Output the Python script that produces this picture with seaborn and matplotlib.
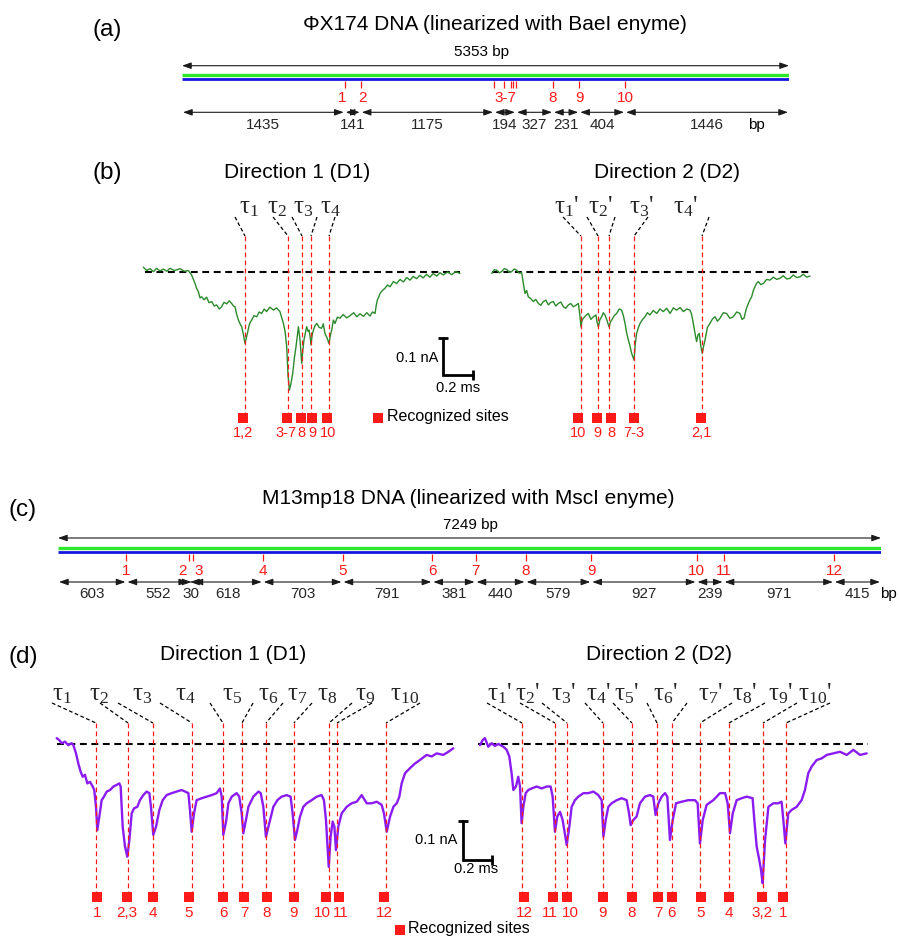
import matplotlib
matplotlib.use('Agg')
import matplotlib.pyplot as plt
import seaborn as sns
import numpy as np

sns.set_theme(style='white')
plt.rcParams['font.family'] = ['Liberation Sans', 'DejaVu Sans']
plt.rcParams['mathtext.fontset'] = 'custom'
plt.rcParams['mathtext.rm'] = 'Liberation Serif'
plt.rcParams['mathtext.it'] = 'Liberation Serif:italic'
plt.rcParams['mathtext.default'] = 'regular'

# ======================= DATA =======================
# (a) PhiX174 restriction map
phix_title = 'ΦX174 DNA (linearized with BaeI enyme)'
phix_total_bp = 5353
phix_segments_bp = [1435, 141, 1175, 194, 327, 231, 404, 1446]
phix_sites_bp = [1435, 1576, 2751, 2840, 2900, 2920, 2945, 3272, 3503, 3907]
phix_label_text = ['1', '2', '3-7', '8', '9', '10']
phix_label_bp = [1435, 1576, 2848, 3272, 3503, 3907]

# (c) M13mp18 restriction map
m13_title = 'M13mp18 DNA (linearized with MscI enyme)'
m13_total_bp = 7249
m13_segments_bp = [603, 552, 30, 618, 703, 791, 381, 440, 579, 927, 239, 971, 415]
m13_sites_bp = [603, 1155, 1185, 1803, 2506, 3297, 3678, 4118, 4697, 5624, 5863, 6834]
m13_label_text = ['1', '2', '3', '4', '5', '6', '7', '8', '9', '10', '11', '12']

# (b) PhiX174 translocation events (time in ms, current change in nA)
b_d1_time_ms = [0.002, 0.025, 0.047, 0.070, 0.091, 0.113, 0.136, 0.158, 0.180, 0.210,
                0.247, 0.275, 0.302, 0.324, 0.347, 0.358, 0.369, 0.380, 0.391, 0.408,
                0.424, 0.440, 0.458, 0.475, 0.491, 0.508, 0.524, 0.540, 0.558, 0.575,
                0.591, 0.603, 0.613, 0.625, 0.636, 0.647, 0.658, 0.670, 0.680, 0.696,
                0.710, 0.724, 0.740, 0.758, 0.775, 0.791, 0.808, 0.824, 0.846, 0.869,
                0.890, 0.913, 0.936, 0.947, 0.958, 0.967, 0.976, 0.987, 0.998, 1.010,
                1.020, 1.036, 1.047, 1.058, 1.066, 1.073, 1.091, 1.100, 1.107, 1.114,
                1.120, 1.128, 1.136, 1.147, 1.158, 1.175, 1.191, 1.202, 1.213, 1.227,
                1.240, 1.250, 1.258, 1.269, 1.280, 1.296, 1.313, 1.335, 1.358, 1.380,
                1.405, 1.425, 1.447, 1.470, 1.492, 1.513, 1.530, 1.547, 1.555, 1.562,
                1.571, 1.580, 1.596, 1.613, 1.630, 1.647, 1.669, 1.691, 1.714, 1.736,
                1.758, 1.780, 1.802, 1.824, 1.846, 1.868, 1.890, 1.913, 1.935, 1.958,
                1.980, 2.002, 2.030, 2.058, 2.085, 2.113]
b_d1_current_na = [0.013, 0.004, 0.009, 0.001, 0.010, 0.003, 0.008, 0.002, 0.010, 0.004,
                   0.009, 0.002, 0.004, -0.008, -0.031, -0.045, -0.053, -0.070, -0.067, -0.075,
                   -0.068, -0.083, -0.080, -0.092, -0.089, -0.100, -0.094, -0.082, -0.086, -0.078,
                   -0.085, -0.092, -0.094, -0.115, -0.130, -0.140, -0.148, -0.170, -0.193, -0.166,
                   -0.140, -0.130, -0.118, -0.121, -0.108, -0.112, -0.100, -0.107, -0.095, -0.103,
                   -0.097, -0.107, -0.139, -0.160, -0.202, -0.280, -0.319, -0.300, -0.274, -0.230,
                   -0.202, -0.148, -0.184, -0.247, -0.210, -0.184, -0.148, -0.160, -0.157, -0.175,
                   -0.197, -0.170, -0.157, -0.145, -0.139, -0.150, -0.152, -0.140, -0.166, -0.178,
                   -0.193, -0.170, -0.157, -0.130, -0.139, -0.122, -0.125, -0.115, -0.124, -0.118,
                   -0.110, -0.121, -0.113, -0.120, -0.110, -0.119, -0.108, -0.112, -0.090, -0.076,
                   -0.068, -0.058, -0.050, -0.044, -0.035, -0.040, -0.026, -0.031, -0.020, -0.027,
                   -0.015, -0.022, -0.012, -0.018, -0.009, -0.016, -0.006, -0.014, -0.004, -0.011,
                   -0.002, -0.008, 0.000, -0.007, 0.001, -0.004]
b_d1_events_ms = [0.680, 0.967, 1.060, 1.120, 1.240]
b_d1_marks_ms = [0.667, 0.960, 1.053, 1.127, 1.227]
b_d1_mark_text = ['1,2', '3-7', '8', '9', '10']
b_d1_tau = [r'τ$_1$', r'τ$_2$', r'τ$_3$', r'τ$_4$']

b_d2_time_ms = [-0.002, 0.015, 0.031, 0.048, 0.064, 0.081, 0.098, 0.115, 0.131, 0.148,
                0.164, 0.181, 0.198, 0.209, 0.220, 0.231, 0.242, 0.259, 0.276, 0.292,
                0.309, 0.325, 0.342, 0.359, 0.376, 0.392, 0.409, 0.425, 0.442, 0.459,
                0.476, 0.492, 0.509, 0.525, 0.542, 0.559, 0.576, 0.587, 0.593, 0.601,
                0.609, 0.625, 0.642, 0.659, 0.676, 0.693, 0.700, 0.709, 0.720, 0.731,
                0.742, 0.753, 0.766, 0.780, 0.790, 0.798, 0.815, 0.831, 0.848, 0.864,
                0.876, 0.887, 0.898, 0.909, 0.920, 0.931, 0.947, 0.955, 0.964, 0.976,
                0.987, 1.004, 1.020, 1.036, 1.053, 1.075, 1.098, 1.120, 1.142, 1.165,
                1.187, 1.209, 1.231, 1.254, 1.276, 1.298, 1.320, 1.331, 1.342, 1.353,
                1.364, 1.373, 1.382, 1.392, 1.402, 1.411, 1.420, 1.436, 1.453, 1.470,
                1.487, 1.503, 1.520, 1.542, 1.564, 1.586, 1.609, 1.631, 1.653, 1.667,
                1.680, 1.695, 1.709, 1.720, 1.731, 1.742, 1.753, 1.765, 1.776, 1.792,
                1.809, 1.831, 1.853, 1.876, 1.898, 1.920, 1.942, 1.965, 1.987, 2.009,
                2.031, 2.053, 2.075, 2.098, 2.120]
b_d2_current_na = [-0.004, 0.006, 0.005, -0.002, 0.001, 0.009, 0.007, -0.001, 0.001, 0.008,
                   0.005, -0.003, -0.002, -0.031, -0.058, -0.050, -0.067, -0.072, -0.080, -0.074,
                   -0.085, -0.090, -0.080, -0.076, -0.089, -0.082, -0.080, -0.092, -0.085, -0.081,
                   -0.094, -0.098, -0.089, -0.085, -0.094, -0.090, -0.085, -0.121, -0.148, -0.130,
                   -0.125, -0.118, -0.112, -0.128, -0.121, -0.116, -0.135, -0.148, -0.128, -0.121,
                   -0.110, -0.116, -0.130, -0.148, -0.135, -0.130, -0.118, -0.112, -0.100, -0.103,
                   -0.118, -0.139, -0.165, -0.184, -0.200, -0.220, -0.238, -0.195, -0.166, -0.150,
                   -0.139, -0.128, -0.121, -0.110, -0.116, -0.104, -0.112, -0.100, -0.107, -0.098,
                   -0.112, -0.097, -0.103, -0.096, -0.107, -0.100, -0.103, -0.115, -0.139, -0.165,
                   -0.188, -0.170, -0.166, -0.200, -0.220, -0.200, -0.184, -0.150, -0.139, -0.127,
                   -0.121, -0.133, -0.125, -0.110, -0.112, -0.125, -0.121, -0.108, -0.112, -0.128,
                   -0.125, -0.100, -0.085, -0.075, -0.067, -0.050, -0.040, -0.030, -0.026, -0.034,
                   -0.031, -0.020, -0.022, -0.014, -0.020, -0.017, -0.010, -0.019, -0.017, -0.008,
                   -0.015, -0.013, -0.006, -0.014, -0.011]
b_d2_events_ms = [0.593, 0.707, 0.780, 0.947, 1.400]
b_d2_marks_ms = [0.573, 0.700, 0.793, 0.947, 1.393]
b_d2_mark_text = ['10', '9', '8', '7-3', '2,1']
b_d2_tau = [r"τ$_1$'", r"τ$_2$'", r"τ$_3$'", r"τ$_4$'"]

# (d) M13mp18 translocation events
d_d1_time_ms = [-0.002, 0.016, 0.032, 0.055, 0.078, 0.101, 0.113, 0.131, 0.147, 0.163,
                0.177, 0.193, 0.209, 0.228, 0.246, 0.257, 0.269, 0.278, 0.292, 0.308,
                0.324, 0.343, 0.366, 0.389, 0.411, 0.430, 0.439, 0.453, 0.469, 0.485,
                0.499, 0.515, 0.531, 0.554, 0.572, 0.595, 0.618, 0.637, 0.648, 0.664,
                0.683, 0.706, 0.729, 0.756, 0.791, 0.825, 0.860, 0.883, 0.906, 0.917,
                0.929, 0.945, 0.963, 0.998, 1.032, 1.067, 1.101, 1.124, 1.136, 1.147,
                1.166, 1.182, 1.205, 1.239, 1.257, 1.274, 1.285, 1.303, 1.320, 1.354,
                1.389, 1.405, 1.423, 1.441, 1.464, 1.492, 1.520, 1.549, 1.584, 1.611,
                1.625, 1.641, 1.657, 1.676, 1.699, 1.722, 1.756, 1.791, 1.825, 1.841,
                1.855, 1.874, 1.887, 1.901, 1.913, 1.924, 1.940, 1.963, 1.998, 2.032,
                2.067, 2.101, 2.136, 2.170, 2.205, 2.239, 2.255, 2.274, 2.297, 2.320,
                2.343, 2.361, 2.377, 2.400, 2.434, 2.469, 2.503, 2.549, 2.584, 2.618,
                2.664, 2.699, 2.733]
d_d1_current_na = [0.015, 0.010, 0.002, 0.006, -0.003, 0.002, -0.003, -0.024, -0.050, -0.071,
                   -0.084, -0.079, -0.101, -0.097, -0.109, -0.118, -0.161, -0.221, -0.186, -0.144,
                   -0.135, -0.122, -0.118, -0.109, -0.105, -0.101, -0.109, -0.212, -0.263, -0.289,
                   -0.246, -0.178, -0.165, -0.161, -0.144, -0.131, -0.122, -0.126, -0.161, -0.233,
                   -0.212, -0.169, -0.144, -0.131, -0.126, -0.122, -0.118, -0.122, -0.126, -0.169,
                   -0.225, -0.178, -0.144, -0.139, -0.135, -0.131, -0.126, -0.114, -0.135, -0.233,
                   -0.199, -0.152, -0.135, -0.126, -0.135, -0.178, -0.229, -0.195, -0.161, -0.135,
                   -0.122, -0.126, -0.161, -0.238, -0.203, -0.161, -0.144, -0.135, -0.131, -0.135,
                   -0.178, -0.246, -0.221, -0.186, -0.161, -0.152, -0.144, -0.135, -0.131, -0.144,
                   -0.195, -0.315, -0.238, -0.199, -0.212, -0.272, -0.212, -0.178, -0.161, -0.152,
                   -0.148, -0.131, -0.152, -0.152, -0.148, -0.156, -0.178, -0.225, -0.186, -0.161,
                   -0.152, -0.135, -0.101, -0.075, -0.062, -0.050, -0.041, -0.028, -0.032, -0.024,
                   -0.028, -0.020, -0.011]
d_d1_events_ms = [0.269, 0.490, 0.662, 0.931, 1.145, 1.276, 1.441, 1.634, 1.876, 1.931, 2.269]
d_d1_marks_ms = [0.276, 0.483, 0.662, 0.910, 1.145, 1.290, 1.448, 1.634, 1.855, 1.945, 2.255]
d_d1_mark_text = ['1', '2,3', '4', '5', '6', '7', '8', '9', '10', '11', '12']
d_d1_tau = [r'τ$_{%d}$' % i for i in range(1, 11)]

d_d2_time_ms = [0.000, 0.018, 0.034, 0.057, 0.080, 0.103, 0.126, 0.161, 0.184, 0.202,
                0.218, 0.230, 0.248, 0.264, 0.276, 0.287, 0.299, 0.315, 0.333, 0.356,
                0.391, 0.425, 0.460, 0.487, 0.501, 0.517, 0.533, 0.552, 0.570, 0.598,
                0.616, 0.632, 0.655, 0.678, 0.713, 0.747, 0.782, 0.816, 0.839, 0.851,
                0.867, 0.885, 0.908, 0.943, 0.977, 1.011, 1.028, 1.039, 1.057, 1.080,
                1.103, 1.138, 1.172, 1.195, 1.211, 1.230, 1.253, 1.276, 1.292, 1.310,
                1.329, 1.352, 1.391, 1.437, 1.483, 1.501, 1.517, 1.536, 1.563, 1.609,
                1.655, 1.690, 1.708, 1.724, 1.743, 1.770, 1.805, 1.839, 1.880, 1.892,
                1.908, 1.926, 1.938, 1.949, 1.966, 1.989, 2.023, 2.057, 2.080, 2.092,
                2.106, 2.126, 2.149, 2.184, 2.218, 2.241, 2.264, 2.287, 2.322, 2.356,
                2.391, 2.437, 2.483, 2.529, 2.575, 2.621, 2.667]
d_d2_current_na = [-0.003, 0.010, 0.015, -0.007, 0.002, -0.005, 0.000, -0.007, -0.015, -0.032,
                   -0.075, -0.118, -0.109, -0.084, -0.109, -0.203, -0.161, -0.126, -0.118, -0.114,
                   -0.109, -0.114, -0.109, -0.109, -0.135, -0.225, -0.186, -0.174, -0.195, -0.259,
                   -0.212, -0.161, -0.144, -0.135, -0.126, -0.126, -0.122, -0.131, -0.144, -0.238,
                   -0.195, -0.161, -0.152, -0.144, -0.139, -0.144, -0.178, -0.208, -0.195, -0.186,
                   -0.152, -0.135, -0.131, -0.135, -0.182, -0.152, -0.135, -0.126, -0.135, -0.246,
                   -0.195, -0.152, -0.148, -0.144, -0.144, -0.152, -0.255, -0.195, -0.156, -0.144,
                   -0.126, -0.126, -0.152, -0.229, -0.178, -0.144, -0.139, -0.135, -0.139, -0.195,
                   -0.263, -0.297, -0.323, -0.357, -0.246, -0.161, -0.152, -0.152, -0.148, -0.195,
                   -0.255, -0.178, -0.169, -0.161, -0.144, -0.118, -0.075, -0.058, -0.041, -0.037,
                   -0.028, -0.024, -0.020, -0.028, -0.015, -0.028, -0.024]
d_d2_events_ms = [0.290, 0.517, 0.600, 0.848, 1.048, 1.221, 1.324, 1.517, 1.717, 1.952, 2.110]
d_d2_marks_ms = [0.303, 0.503, 0.600, 0.848, 1.048, 1.228, 1.324, 1.524, 1.717, 1.945, 2.090]
d_d2_mark_text = ['12', '11', '10', '9', '8', '7', '6', '5', '4', '3,2', '1']
d_d2_tau = [r"τ$_{%d}$'" % i for i in range(1, 11)]

scale_current_na = 0.1
scale_time_ms = 0.2

# ======================= STYLE / LAYOUT =======================
W, H = 899, 936
RED = '#ff1a1a'
TRACE_GREEN = '#2b8a2b'
TRACE_PURPLE = '#8a1cf2'
MAP_GREEN = '#2ee82e'
MAP_BLUE = '#1515e0'
SERIF = ['Liberation Serif', 'DejaVu Serif']

fig = plt.figure(figsize=(W / 100, H / 100), dpi=100)
fig.patch.set_facecolor('white')
canvas = fig.add_axes([0, 0, 1, 1], label='canvas')
canvas.set_xlim(0, W)
canvas.set_ylim(H, 0)
canvas.axis('off')


def ctext(x, y, s, size, color='black', ha='center', va='center', **kw):
    canvas.text(x, y, s, fontsize=size, color=color, ha=ha, va=va, **kw)


for lab, xy in [('(a)', (107, 30)), ('(b)', (107, 173)), ('(c)', (23, 510)), ('(d)', (23, 657))]:
    ctext(xy[0], xy[1], lab, 17.5)

ARROW = dict(arrowstyle='<|-|>,head_length=0.45,head_width=0.16', color='#1a1a1a',
             lw=0.8, shrinkA=0, shrinkB=0)


def draw_map(x0, x1, total, segments, sites, lab_text, lab_bp, lab_nudge, L, name):
    ax = fig.add_axes([x0 / W, 0, (x1 - x0) / W, 1], label=name)
    ax.axis('off')
    ppb = (x1 - x0) / total
    ax.annotate('', xy=(total, L['arrow']), xytext=(0, L['arrow']), arrowprops=ARROW,
                annotation_clip=False)
    ax.hlines(L['green'], 0, total, color=MAP_GREEN, lw=2.4)
    ax.hlines(L['blue'], 0, total, color=MAP_BLUE, lw=2.0)
    ax.vlines(sites, L['tick0'], L['tick1'], color=RED, lw=0.9)
    for s, b in zip(lab_text, lab_bp):
        ax.annotate(s, (b, L['num']), xytext=(lab_nudge.get(s, 0) * 0.72, 0),
                    textcoords='offset points', ha='center', va='center', color=RED,
                    fontsize=11, annotation_clip=False)
    bounds = np.concatenate([[0], np.cumsum(segments)])
    gap = 1.0 / ppb
    for a, b, n in zip(bounds[:-1], bounds[1:], segments):
        ax.annotate('', xy=(b - gap, L['seg']), xytext=(a + gap, L['seg']), arrowprops=ARROW,
                    annotation_clip=False)
        ax.text((a + b) / 2, L['seglab'], str(n), ha='center', va='center', fontsize=11)
    ax.set_xlim(0, total)
    ax.set_ylim(H, 0)
    return ax


# (a)
ctext(495, 25, phix_title, 15)
ctext(481, 52, f'{phix_total_bp} bp', 11)
draw_map(182, 789, phix_total_bp, phix_segments_bp, phix_sites_bp, phix_label_text,
         phix_label_bp, {'1': -3, '2': 2},
         dict(arrow=65.7, green=75, blue=79.3, tick0=80.5, tick1=87.5, num=98, seg=112.3,
              seglab=125), 'mapA')
ctext(756, 125, 'bp', 11)

# (c)
ctext(468, 498, m13_title, 15)
ctext(470, 525, f'{m13_total_bp} bp', 11)
draw_map(58, 881, m13_total_bp, m13_segments_bp, m13_sites_bp, m13_label_text,
         m13_sites_bp, {'2': -7, '3': 6},
         dict(arrow=538, green=548, blue=552.3, tick0=553.5, tick1=560.5, num=571, seg=582,
              seglab=594), 'mapC')
ctext(888, 594, 'bp', 11)


def draw_trace(p, t, cur, color, lw, base, events, marks, mark_text, mark_nudge,
               lead_x, lead_y0, lead_y1, vline_bottom, sq_y, lab_y, taus, tau_x, tau_y, name,
               lab_size=11):
    ax = fig.add_axes([0, 0, 1, 1], label=name)
    ax.axis('off')

    def yI(ypx):
        return (p['y0'] - ypx) / p['ppn']

    def xpx(tt):
        return p['x0'] + tt * p['ppm']

    ax.plot(base, [0, 0], color='black', lw=1.5, ls=(0, (3.3, 2.2)), zorder=2)
    sns.lineplot(x=t, y=cur, ax=ax, color=color, lw=lw, sort=False, estimator=None, zorder=3)
    for ev in events:
        ax.plot([ev, ev], [yI(lead_y1), yI(vline_bottom)], color=RED, lw=0.9,
                ls=(0, (3.8, 2.6)), zorder=4)
    sns.scatterplot(x=marks, y=[yI(sq_y)] * len(marks), ax=ax, marker='s', s=42, color=RED,
                    linewidth=0, zorder=5)
    for m, s in zip(marks, mark_text):
        ax.annotate(s, (m, yI(lab_y)), xytext=(mark_nudge.get(s, 0) * 0.72, 0),
                    textcoords='offset points', ha='center', va='center', color=RED,
                    fontsize=lab_size)
    for sx, ev in zip(lead_x, events):
        canvas.plot([sx, xpx(ev)], [lead_y0, lead_y1], color='black', lw=0.9,
                    ls=(0, (3, 2)))
    for s, x in zip(taus, tau_x):
        canvas.text(x, tau_y, s, ha='center', va='baseline', fontsize=18, family=SERIF)
    ax.set_xlim(-p['x0'] / p['ppm'], (W - p['x0']) / p['ppm'])
    ax.set_ylim((p['y0'] - H) / p['ppn'], p['y0'] / p['ppn'])
    return ax


def scale_bar(ax, t0, i0):
    ax.plot([t0, t0, t0 + scale_time_ms], [i0 + scale_current_na, i0, i0], color='black',
            lw=2.0, solid_joinstyle='miter', zorder=6)
    ax.plot([t0], [i0 + scale_current_na], marker='_', ms=7, mew=2, color='black')
    ax.plot([t0 + scale_time_ms], [i0], marker='|', ms=7, mew=2, color='black')


# (b)
pb1 = dict(x0=143, y0=272, ppm=150, ppn=370)
pb2 = dict(x0=492, y0=272, ppm=150, ppn=370)
ctext(297, 173, 'Direction 1 (D1)', 15)
ctext(667, 173, 'Direction 2 (D2)', 15)
axb1 = draw_trace(pb1, b_d1_time_ms, b_d1_current_na, TRACE_GREEN, 1.0, [0.013, 2.113],
                  b_d1_events_ms, b_d1_marks_ms, b_d1_mark_text, {'3-7': -1, '10': 1},
                  [235, 273, 292, 317, 335], 217, 236, 413, 418, 433,
                  b_d1_tau, [249, 277, 303, 330], 213, 'b1', lab_size=10.5)
scale_bar(axb1, 2.0, -0.278)
axb2 = draw_trace(pb2, b_d2_time_ms, b_d2_current_na, TRACE_GREEN, 1.0, [0.0, 2.12],
                  b_d2_events_ms, b_d2_marks_ms, b_d2_mark_text, {},
                  [563, 587, 615, 648, 709], 217, 236, 413, 418, 433,
                  b_d2_tau, [567, 601, 642, 686], 213, 'b2', lab_size=10.5)
ctext(438, 358, f'{scale_current_na} nA', 10.5, ha='right')
ctext(458, 388, f'{scale_time_ms} ms', 10.5)
canvas.scatter([377.5], [417.5], marker='s', s=42, color=RED, linewidths=0)
ctext(387, 417, 'Recognized sites', 11.5, ha='left')

# (d)
pd1 = dict(x0=57, y0=744, ppm=145, ppn=390)
pd2 = dict(x0=480, y0=744, ppm=145, ppn=390)
ctext(233, 655, 'Direction 1 (D1)', 15)
ctext(659, 655, 'Direction 2 (D2)', 15)
axd1 = draw_trace(pd1, d_d1_time_ms, d_d1_current_na, TRACE_PURPLE, 1.7, [0.0, 2.731],
                  d_d1_events_ms, d_d1_marks_ms, d_d1_mark_text, {'10': -4, '11': 2},
                  [52, 100, 118, 160, 210, 253, 283, 312, 352, 372, 420], 703, 723, 893, 897,
                  913, d_d1_tau, [62, 99, 142, 185, 232, 268, 297, 327, 365, 405], 700, 'd1')
scale_bar(axd1, 2.8, -0.297)
axd2 = draw_trace(pd2, d_d2_time_ms, d_d2_current_na, TRACE_PURPLE, 1.7, [-0.014, 2.676],
                  d_d2_events_ms, d_d2_marks_ms, d_d2_mark_text, {'11': -3, '10': 3},
                  [487, 520, 542, 585, 613, 647, 687, 732, 765, 797, 830], 703, 723, 893, 897,
                  913, d_d2_tau, [500, 528, 564, 599, 627, 666, 711, 745, 781, 815], 700, 'd2')
ctext(457, 840, f'{scale_current_na} nA', 10.5, ha='right')
ctext(476, 869, f'{scale_time_ms} ms', 10.5)
canvas.scatter([400], [929.5], marker='s', s=42, color=RED, linewidths=0)
ctext(408, 929, 'Recognized sites', 11.5, ha='left')

fig.savefig('out.png', dpi=100, facecolor='white')
